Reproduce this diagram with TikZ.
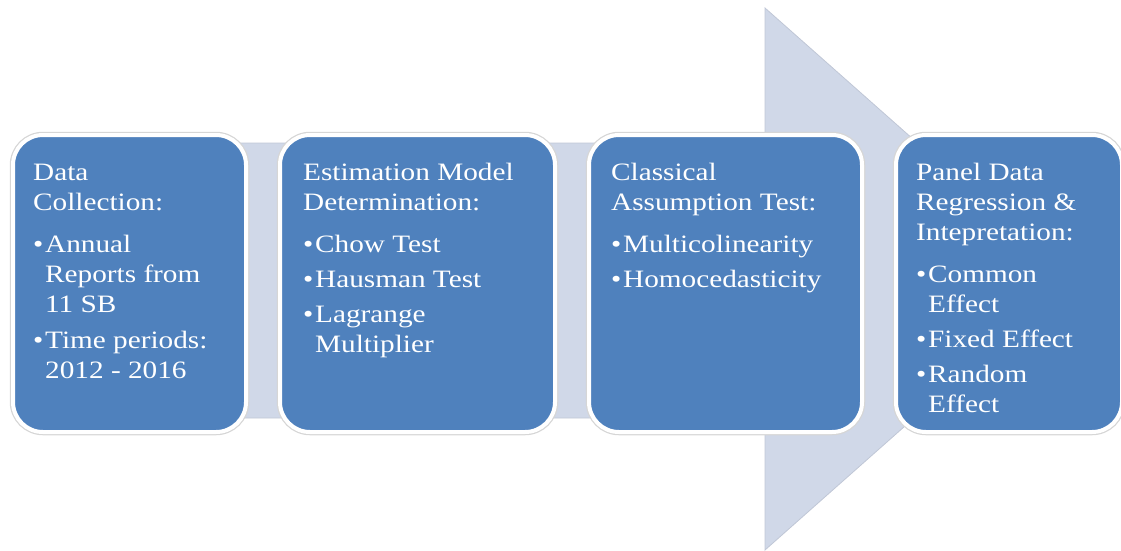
\documentclass[tikz,border=0pt]{standalone}
\usepackage{fontspec}
\setmainfont{Liberation Serif}[FakeStretch=1.17]
\definecolor{boxblue}{RGB}{79,129,189}
\definecolor{arrowfill}{RGB}{208,216,232}
\definecolor{arrowedge}{RGB}{192,199,214}
\newcommand{\bul}{\makebox[12pt][l]{\textbullet}}
\newcommand{\ind}{\hspace*{12pt}}
\begin{document}
\begin{tikzpicture}[x=1pt,y=-1pt,
  stagebox/.style={rectangle, fill=boxblue, draw=white, line width=4pt, rounded corners=30pt,
    preaction={draw=black!16, line width=6.5pt}, minimum height=297pt, inner sep=0pt, outer sep=0pt},
  stagetext/.style={anchor=north west, inner sep=0pt, text=white, align=left,
    font=\fontsize{25}{30}\selectfont}]
\useasboundingbox (0,0) rectangle (1121,550);
% big background arrow
\path[fill=arrowfill, draw=arrowedge, line width=0.8pt]
  (100,143) -- (765,143) -- (765,8) -- (1071,279) -- (765,550) -- (765,418) -- (100,418) -- cycle;
% stage boxes
\node[stagebox, minimum width=233pt] (b1) at (129.5,283.5) {};
\node[stagebox, minimum width=275pt] (b2) at (417.5,283.5) {};
\node[stagebox, minimum width=273pt] (b3) at (725.5,283.5) {};
\node[stagebox, minimum width=226pt] (b4) at (1009,283.5) {};
% texts
\node[stagetext] (t1) at (33,160) {\rule{0pt}{20pt}Data\\Collection:\\[12pt]
  \bul Annual\\ \ind Reports from\\ \ind 11 SB\\[6pt]
  \bul Time periods:\\ \ind 2012 - 2016};
\node[stagetext] (t2) at (303,160) {\rule{0pt}{20pt}Estimation Model\\Determination:\\[12pt]
  \bul Chow Test\\[5pt]
  \bul Hausman Test\\[5pt]
  \bul Lagrange\\ \ind Multiplier};
\node[stagetext] (t3) at (611,160) {\rule{0pt}{20pt}Classical\\Assumption Test:\\[12pt]
  \bul Multicolinearity\\[5pt]
  \bul Homocedasticity};
\node[stagetext] (t4) at (916,160) {\rule{0pt}{20pt}Panel Data\\Regression \&\\Intepretation:\\[12pt]
  \bul Common\\ \ind Effect\\[5pt]
  \bul Fixed Effect\\[5pt]
  \bul Random\\ \ind Effect};
\end{tikzpicture}
\end{document}
